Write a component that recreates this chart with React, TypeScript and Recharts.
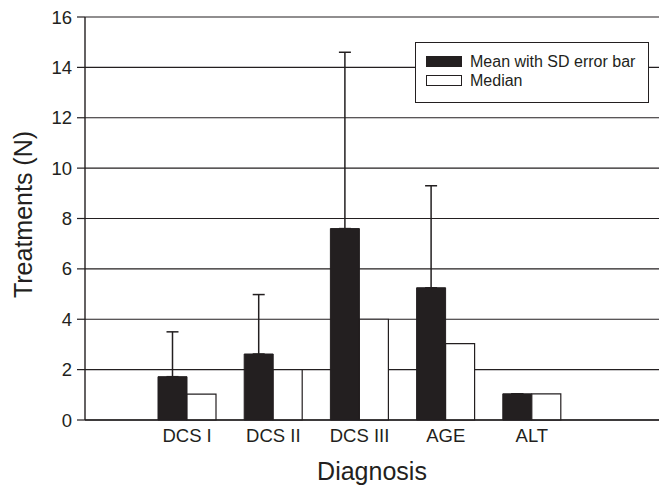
import { Bar, BarChart, CartesianGrid, ErrorBar, Legend, XAxis, YAxis } from 'recharts'

const categories = ['DCS I', 'DCS II', 'DCS III', 'AGE', 'ALT']
const means = [1.72, 2.62, 7.6, 5.25, 1.04]
const sds = [1.78, 2.36, 7.0, 4.05, 0]
const medians = [1.03, 2.0, 4.0, 3.03, 1.04]
const yTicks = [0, 2, 4, 6, 8, 10, 12, 14, 16]

const ink = '#231f20'
const font = '"Liberation Sans", Arial, sans-serif'

const data = categories.map((name, i) => ({
  name,
  mean: means[i],
  median: medians[i],
  err: [0, sds[i]],
}))

function LegendBox() {
  const row = (fill: string, label: string) => (
    <div style={{ display: 'flex', alignItems: 'center', height: 19 }}>
      <span style={{ display: 'inline-block', width: 34, height: 9, background: fill, border: `1px solid ${ink}`, marginRight: 8 }} />
      <span>{label}</span>
    </div>
  )
  return (
    <div style={{ border: `1px solid ${ink}`, background: '#fff', padding: '9px 10px 10px 10px', fontFamily: font, fontSize: 16, color: ink, boxSizing: 'border-box', height: 61, whiteSpace: 'nowrap' }}>
      {row(ink, 'Mean with SD error bar')}
      {row('#fff', 'Median')}
    </div>
  )
}

export default function App() {
  return (
    <div style={{ position: 'absolute', left: 0, top: 0, background: '#fff' }}>
      <BarChart width={663} height={487} data={data} margin={{ top: 17, right: 4, bottom: 0, left: 0 }} barGap={0} barSize={29}>
        <CartesianGrid vertical={false} stroke={ink} strokeWidth={1.2} />
        <XAxis
          dataKey="name"
          padding={{ left: 59, right: 84 }}
          height={67}
          tickLine={false}
          axisLine={{ stroke: ink, strokeWidth: 1.4 }}
          tickMargin={3}
          tick={{ fill: ink, fontSize: 18.5, fontFamily: font }}
          label={{ value: 'Diagnosis', position: 'insideBottom', offset: 7, fill: ink, fontSize: 25, fontFamily: font }}
        />
        <YAxis
          domain={[0, 16]}
          ticks={yTicks}
          width={85}
          tickSize={8}
          tickMargin={5}
          tickLine={{ stroke: ink, strokeWidth: 1.2 }}
          axisLine={{ stroke: ink, strokeWidth: 1.4 }}
          tick={{ fill: ink, fontSize: 18.5, fontFamily: font }}
          label={{ value: 'Treatments (N)', angle: -90, position: 'center', dx: -19, dy: -4, fill: ink, fontSize: 25, fontFamily: font }}
        />
        <YAxis yAxisId="frame" orientation="right" mirror width={0} tick={false} tickLine={false} axisLine={{ stroke: ink, strokeWidth: 1.4 }} />
        <Legend
          layout="vertical"
          align="center"
          verticalAlign="middle"
          content={() => <LegendBox />}
          wrapperStyle={{ left: 415, top: 42, width: 234 }}
        />
        <Bar dataKey="mean" name="Mean with SD error bar" fill={ink} stroke={ink} strokeWidth={1} isAnimationActive={false}>
          <ErrorBar dataKey="err" width={6} stroke={ink} strokeWidth={1.5} direction="y" />
        </Bar>
        <Bar dataKey="median" name="Median" fill="#fff" stroke={ink} strokeWidth={1.2} isAnimationActive={false} />
      </BarChart>
    </div>
  )
}
